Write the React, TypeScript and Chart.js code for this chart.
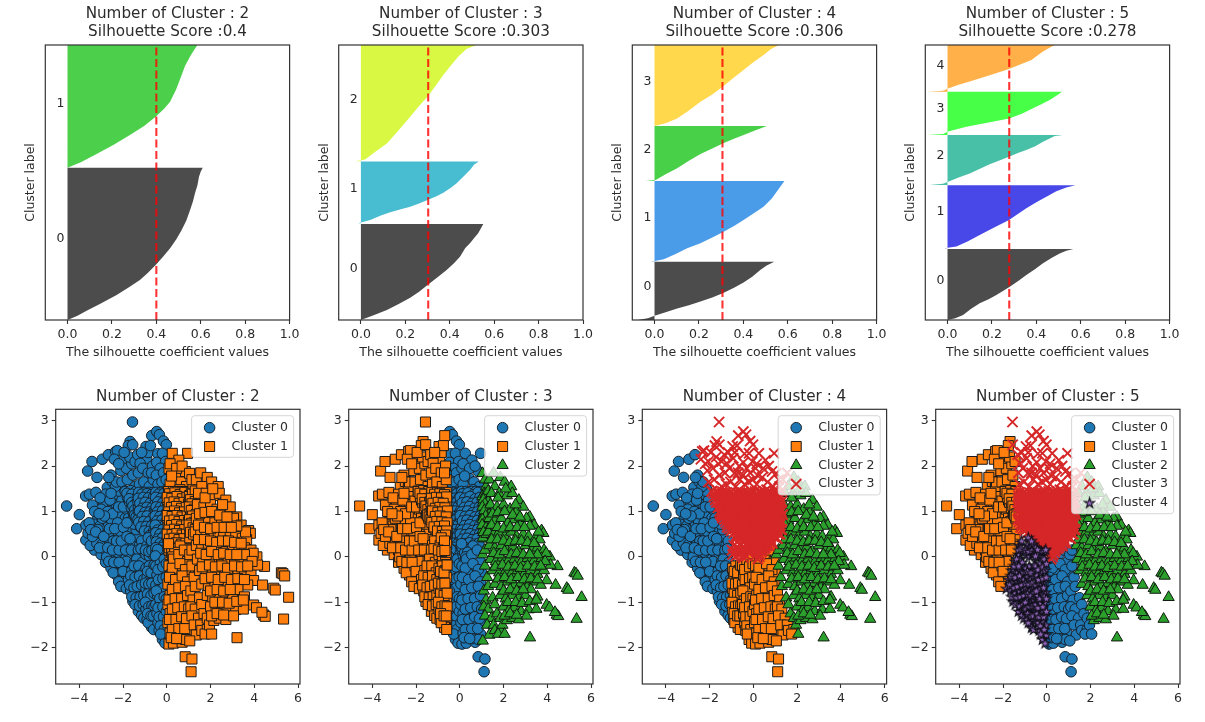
import React, { useEffect, useRef } from "react";
import Chart from "chart.js/auto";
import { drawPoint } from "chart.js/helpers";

type P = number[];

// ---------- silhouette plots: [coefficient, position along the stacked axis (0..1000)] ----------
const sil2c0: P[] = [[0,0],[.045,15],[.086,34],[.15,60],[.221,91],[.275,118],[.326,145],[.36,170],[.397,200],[.43,230],[.462,261],[.49,294],[.514,327],[.535,362],[.552,400],[.565,432],[.574,461],[.585,490],[.592,521],[.6,540],[.609,554]];
const sil2c1: P[] = [[0,554],[.06,574],[.131,604],[.21,638],[.281,673],[.345,705],[.397,739],[.435,768],[.462,794],[.49,840],[.514,891],[.53,925],[.552,958],[.565,975],[.585,1000]];

const sil3c0: P[] = [[0,0],[.06,18],[.117,36],[.17,58],[.222,81],[.262,103],[.3,127],[.345,155],[.386,182],[.42,207],[.446,230],[.47,262],[.491,279],[.51,298],[.528,315],[.54,333],[.551,349]];
const sil3c1: P[] = [[-.013,352],[.042,364],[.09,380],[.132,392],[.18,403],[.222,412],[.262,424],[.3,436],[.34,450],[.371,463],[.405,481],[.431,497],[.462,522],[.491,545],[.51,565],[.531,576]];
const sil3c2: P[] = [[-.025,577],[.019,584],[.065,612],[.117,642],[.17,690],[.222,739],[.262,778],[.3,812],[.34,855],[.371,891],[.405,925],[.439,958],[.475,985],[.521,1000]];

const sil4c0: P[] = [[-.075,0],[-.03,6],[0,15],[.05,28],[.102,42],[.155,54],[.207,67],[.26,82],[.307,97],[.358,117],[.401,136],[.44,157],[.476,182],[.505,198],[.539,212]];
const sil4c1: P[] = [[-.015,212],[.042,221],[.095,240],[.147,261],[.207,279],[.26,300],[.307,319],[.358,342],[.401,364],[.447,388],[.491,412],[.528,442],[.555,472],[.585,505]];
const sil4c2: P[] = [[-.04,505],[.005,509],[.05,530],[.102,552],[.155,579],[.207,604],[.26,624],[.307,642],[.355,658],[.401,673],[.455,690],[.506,705]];
const sil4c3: P[] = [[0,705],[.05,715],[.102,733],[.155,762],[.207,794],[.26,820],[.307,848],[.355,880],[.401,909],[.445,937],[.491,964],[.525,985],[.561,1000]];

const sil5c0: P[] = [[0,0],[.035,6],[.07,18],[.105,40],[.145,61],[.185,75],[.22,91],[.277,119],[.32,143],[.355,164],[.395,185],[.43,206],[.47,226],[.505,242],[.535,252],[.567,258]];
const sil5c1: P[] = [[-.015,261],[.04,267],[.09,285],[.145,309],[.21,336],[.277,364],[.32,387],[.355,406],[.4,428],[.445,448],[.49,468],[.535,482],[.576,490]];
const sil5c2: P[] = [[-.08,491],[-.02,495],[.003,503],[.05,518],[.1,533],[.19,566],[.277,594],[.32,608],[.355,618],[.395,632],[.43,648],[.46,660],[.483,669],[.52,673]];
const sil5c3: P[] = [[-.087,673],[-.02,676],[.003,685],[.085,703],[.18,717],[.277,733],[.335,750],[.385,770],[.425,785],[.46,800],[.49,815],[.516,830]];
const sil5c4: P[] = [[-.09,830],[-.02,834],[.003,842],[.05,855],[.1,867],[.19,890],[.277,913],[.33,930],[.378,945],[.405,962],[.43,976],[.455,988],[.483,1000]];

const farLeft: P[] = [[-4.58,1.12],[-4,.93],[-4.12,.62],[-3.7,.7],[-3.7,.37],[-3.6,.52],[-3.31,.15],[-3.62,1.89],[-3.42,2.1],[-3.19,1.75],[-3.71,1.34],[-3.54,1.38],[-3.24,1.42],[-3.4,1.14],[-2.95,2.15],[-2.67,2.25],[-2.55,1.8],[-2.72,1.53],[-2.49,1.66],[-2.9,.95],[-3.2,.81],[-2.37,1.33],[-2.17,1.3],
[-3.35,.72],[-3.1,.5],[-3.5,.25],[-3.2,.3],[-3,.05],[-3.05,.68],[-2.85,.6],[-2.95,.28],[-2.75,.42],[-2.8,.15],[-2.8,-.12],[-2.65,.72],[-2.6,.28],[-2.55,.02],[-2.55,-.25],[-2.5,.52],[-2.4,.2],[-2.35,.85],[-2.3,-.1],[-2.3,-.4],[-2.25,.55],[-2.2,.32],[-2.15,.05],[-2.12,-.3],[-2.1,1.05],[-2.05,.72],[-2,.45],[-2,.2],[-1.95,-.05],[-1.95,-.45],
[-2.75,1.15],[-2.6,1],[-2.45,1.1],[-2.3,1.15],[-2.6,.85],[-2.9,1.2],[-2.8,1.38],[-3,1.05],[-3.05,1.3],[-2.2,.9],[-1.9,.85],[-1.85,.6],[-1.8,.3],[-1.75,.1],[-1.7,-.15],[-1.85,1.05],[-1.75,.85],[-1.6,.55],[-1.55,.3],[-1.45,.45],[-1.4,.6],[-2.05,1.25],[-2.15,1.5],[-2.2,1.45],[-2.35,1.55],[-2.6,1.25],[-2.75,0],[-2.65,-.1],[-2.45,-.35],[-2.2,-.55],[-2.1,-.65],[-2.05,-.2],[-1.85,-.1],[-2.25,.1],[-2.5,.78],[-2.95,.85],[-3.15,.6],[-3.4,.45],[-3.55,.75],[-3.3,1],[-2.65,.55],[-2.45,.35],[-2.25,.75],[-2.1,.55],[-1.95,.35],[-1.65,.78],[-1.5,.72],
[-3.48,.6],[-3.25,.55],[-3.08,.2],[-2.88,.45],[-2.7,.2],[-2.62,.62],[-2.48,.15],[-2.38,.62],[-2.3,.35],[-2.18,.15],[-2.08,.35],[-1.98,.65],[-1.88,.15],[-1.82,.45],[-1.68,.4],[-1.62,.15],[-2.42,-.12],[-2.18,-.12],[-2,-.32],[-2.7,1],[-2.48,.95],[-2.2,1.1],[-1.98,1.1],[-1.82,.75],[-2.85,.9],[-3.1,.95],[-2.55,1.4],[-2.3,1.65],[-2.65,1.75]];

const upperLeftWedge: P[] = [[-2.34,2.32],[-2.26,2.34],[-1.68,2.54],[-1.76,2.45],[-2.06,2.1],[-2.4,2.15],[-2.1,1.9],[-1.85,1.95],[-1.6,2.05],[-2.05,1.65],[-1.8,1.7],[-1.55,1.8],[-1.9,1.45],[-1.65,1.4],[-1.45,1.55],[-1.75,1.25],[-1.5,1.2],[-1.4,1.35],[-1.55,1],[-1.42,.85],[-1.7,2.2],[-1.45,2.1],[-2.2,2.05],[-1.95,2.3],
[-1.9,1.44],[-1.65,1.46],[-1.42,1.44],[-1.8,1.32],[-1.55,1.32],[-1.7,1.2],[-1.45,1.18],[-1.62,1.08],[-1.4,1.08],[-1.52,.95],[-1.42,.97],[-1.44,.9],
[-1.82,1.4],[-1.6,1.38],[-1.45,1.28],[-1.72,1.28],[-1.6,1.2],[-1.38,1.2],[-1.55,1.12],[-1.46,1.04],[-1.38,.95],[-1.47,.92],[-1.4,.88]];

const upperCentreLeft: P[] = [[-1.57,2.97],[-1.56,2.47],[-1.33,2.25],[-.95,2.43],[-.69,2.67],[-.92,2.17],[-1.22,2.06],[-1.3,1.85],[-1.1,1.95],[-.85,1.85],[-.65,2],[-1.25,1.6],[-1.05,1.65],[-.8,1.55],[-.62,1.7],[-1.3,1.35],[-1.1,1.4],[-.9,1.3],[-.7,1.4],[-1.3,1.1],[-1.12,1.15],[-.85,1.05],[-.65,1.15],[-1.28,.85],[-1.05,.9],[-.8,.8],[-.62,.9],[-1.2,.65],[-.95,.62],[-.72,.6],[-.6,.6],[-.85,2.3],[-.75,2.45],[-1.15,2.3],[-.7,1.85],
[-1.28,1.42],[-1.02,1.42],[-.8,1.42],[-.62,1.42],[-1.18,1.3],[-.96,1.3],[-.72,1.3],[-1.32,1.22],[-1.06,1.22],[-.85,1.22],[-.6,1.22],[-1.2,1.12],[-.98,1.12],[-.74,1.12],[-1.3,1],[-1.08,1],[-.88,1],[-.64,1],[-1.18,.92],[-.94,.92],[-.7,.92],[-1.32,.82],[-1.1,.82],[-.86,.82],[-.6,.82],[-1.2,.72],[-.98,.72],[-.76,.72],[-1.1,.62],[-.88,.62],[-.66,.62],[-.9,.52],[-.7,.52],[-.58,.52],[-.72,.44],[-.6,.44],
[-1.15,1.38],[-.91,1.39],[-.7,1.37],[-1.3,1.29],[-1.07,1.31],[-.84,1.3],[-.6,1.32],[-1.23,1.18],[-.99,1.2],[-.76,1.18],[-1.12,1.07],[-.91,1.09],[-.68,1.08],[-1.25,1.01],[-1,.98],[-.78,.99],[-.57,1.01],[-1.12,.89],[-.9,.9],[-.62,.88],[-1.28,.76],[-1.05,.78],[-.82,.77],[-.58,.75],[-1.18,.66],[-.94,.67],[-.7,.68],[-1.02,.57],[-.8,.56],[-.6,.57],[-.78,.47],[-.65,.48]];

const lowerLeftBand: P[] = [[-1.25,.25],[-1.15,.35],[-1.3,.05],[-1.45,-.1],[-1.2,-.05],[-1.1,.1],[-1.6,-.3],[-1.4,-.35],[-1.2,-.3],[-1.05,-.2],[-1.75,-.5],[-1.55,-.55],[-1.35,-.55],[-1.15,-.5],[-1.85,-.7],[-1.65,-.75],[-1.45,-.8],[-1.25,-.75],[-1.05,-.7],[-1.55,-.98],[-1.35,-1],[-1.15,-.95],[-1.3,-1.2],[-1.1,-1.2],[-1.15,-1.29],[-1.05,-1.35],
[-1.3,.15],[-1.18,.18],[-1.38,-.05],[-1.12,-.12],[-1.5,-.2],[-1.28,-.2],[-1.08,-.35],[-1.65,-.42],[-1.45,-.45],[-1.25,-.42],[-1.05,-.5],[-1.7,-.62],[-1.5,-.68],[-1.35,-.65],[-1.15,-.62],[-1.6,-.88],[-1.4,-.9],[-1.22,-.88],[-1.05,-.85],[-1.45,-1.05],[-1.25,-1.08],[-1.08,-1.05]];

const centreApexLeft: P[] = [[-.95,.05],[-.8,.02],[-.65,.05],[-.9,.25],[-.75,.22],[-.6,.28],[-.85,.42],[-.62,.1],[-.7,.35],[-.98,.15],[-.82,.12],[-.68,.14]];

const lowerLeftStrip: P[] = [[-.95,-.25],[-.8,-.2],[-.65,-.3],[-.9,-.45],[-.75,-.5],[-.6,-.45],[-.95,-.7],[-.8,-.75],[-.65,-.7],[-.9,-.95],[-.75,-1],[-.6,-.95],[-.95,-1.15],[-.8,-1.25],[-.62,-1.2],[-.9,-1.38],[-.75,-1.45],[-.6,-1.4],[-.65,-1.55],[-.7,-1.55],[-.85,-1.45],[-.6,-1.6],
[-.88,-.32],[-.72,-.35],[-.58,-.18],[-.98,-.58],[-.82,-.6],[-.68,-.58],[-.88,-.82],[-.72,-.85],[-.58,-.8],[-.98,-1],[-.82,-1.1],[-.68,-1.08],[-.58,-1.1],[-.88,-1.25],[-.72,-1.3],[-.62,-1.3]];

const upperNearZeroLeft: P[] = [[-.46,2.76],[-.34,2.69],[-.15,2.55],[-.02,2.47],[-.41,2.27],[-.46,2.08],[-.2,2.28],[-.05,2.1],[-.3,1.95],[-.48,1.8],[-.15,1.85],[-.4,1.6],[-.22,1.65],[-.03,1.7],[-.5,1.4],[-.3,1.35],[-.1,1.45],[-.45,1.15],[-.2,1.12],[-.05,1.2],[-.35,.95],[-.12,.9],[-.5,.75],[-.28,.72],[-.05,.7],[-.45,.5],[-.2,.48],[-.08,.42],
[-.5,1.42],[-.28,1.42],[-.06,1.42],[-.42,1.33],[-.18,1.33],[-.52,1.24],[-.3,1.24],[-.08,1.24],[-.4,1.14],[-.16,1.14],[-.5,1.04],[-.26,1.04],[-.04,1.04],[-.38,.94],[-.14,.94],[-.52,.84],[-.28,.84],[-.06,.84],[-.4,.74],[-.18,.74],[-.5,.64],[-.28,.64],[-.05,.64],[-.38,.54],[-.14,.54],[-.5,.44],[-.26,.44],[-.03,.44],[-.38,.34],[-.14,.34],[-.28,.26],[-.05,.26],
[-.38,1.38],[-.14,1.39],[-.51,1.31],[-.26,1.29],[-.03,1.3],[-.41,1.21],[-.18,1.19],[-.49,1.1],[-.29,1.09],[-.07,1.11],[-.43,.99],[-.2,1.01],[-.02,.97],[-.53,.9],[-.31,.89],[-.09,.88],[-.45,.79],[-.22,.81],[-.03,.78],[-.34,.69],[-.1,.69],[-.53,.7],[-.42,.59],[-.19,.6],[-.02,.55],[-.5,.53],[-.31,.5],[-.1,.48],[-.43,.39],[-.21,.41],[-.04,.35],[-.48,.33],[-.3,.3],[-.12,.28],[-.2,.21]];

const centreApexMiddle: P[] = [[-.5,.1],[-.35,.15],[-.2,.08],[-.45,-.02],[-.3,.02],[-.5,.2],[-.4,.05],[-.25,.12],[-.12,.12],[-.05,.16],[-.42,.16],[-.52,.02]];

const lowerNearZeroLeft: P[] = [[-.5,-.2],[-.3,-.15],[-.12,-.05],[-.45,-.4],[-.25,-.35],[-.08,-.3],[-.5,-.62],[-.3,-.6],[-.12,-.55],[-.42,-.85],[-.22,-.8],[-.05,-.78],[-.5,-1.05],[-.3,-1.02],[-.1,-1],[-.45,-1.25],[-.25,-1.2],[-.08,-1.28],[-.4,-1.45],[-.22,-1.42],[-.05,-1.5],[-.35,-1.62],[-.15,-1.7],[-.02,-1.72],[-.2,-1.82],[-.08,-1.9],
[-.4,-.28],[-.18,-.22],[-.02,-.15],[-.38,-.5],[-.18,-.48],[-.03,-.45],[-.35,-.72],[-.15,-.68],[-.48,-.75],[-.32,-.92],[-.12,-.88],[-.02,-.92],[-.4,-1.12],[-.18,-1.1],[-.35,-1.32],[-.15,-1.32],[-.02,-1.2],[-.3,-1.52],[-.12,-1.6],[-.28,-1.7]];

const upperNearZeroRight: P[] = [[.25,2.28],[.95,2.28],[.55,2.13],[.85,1.88],[.1,1.95],[.4,1.75],[.65,1.65],[.9,1.55],[.15,1.6],[.3,1.4],[.55,1.3],[.8,1.35],[.1,1.25],[.95,1.1],[.25,1.12],[.5,1.05],[.75,.98],[.05,.9],[.35,.85],[.6,.78],[.9,.72],[.15,.6],[.4,.55],[.65,.5],[.9,.45],[.1,.38],[.3,.35],[.55,.33],[.78,.3],[.15,2.05],[.45,1.95],[.7,2],[.22,1.78],[.6,1.48],[.4,1.2],[.72,1.15],[.2,.95],[.5,.7],[.8,.58],
[.08,1.44],[.3,1.44],[.52,1.44],[.74,1.44],[.96,1.44],[.18,1.34],[.42,1.34],[.64,1.34],[.86,1.34],[.04,1.24],[.28,1.24],[.5,1.24],[.72,1.24],[.95,1.24],[.16,1.14],[.38,1.14],[.6,1.14],[.84,1.14],[.06,1.04],[.3,1.04],[.52,1.04],[.76,1.04],[.98,1.04],[.18,.94],[.42,.94],[.64,.94],[.88,.94],[.04,.84],[.28,.84],[.5,.84],[.74,.84],[.96,.84],[.16,.74],[.38,.74],[.62,.74],[.86,.74],[.06,.64],[.3,.64],[.52,.64],[.76,.64],[.98,.64],[.18,.54],[.42,.54],[.64,.54],[.88,.54],[.04,.44],[.28,.44],[.5,.44],[.74,.44],[.94,.44],[.16,.34],[.38,.34],[.62,.34],[.84,.34],[.06,.24],[.3,.24],[.52,.24],[.72,.24],[.16,.14],[.38,.14],[.2,-.05],[.15,.05],[.3,.05],[.1,.15],[.25,.15],[.4,.15],[.55,.2],[.7,.25],
[.13,1.39],[.37,1.41],[.61,1.37],[.83,1.42],[.02,1.31],[.23,1.29],[.47,1.33],[.71,1.28],[.92,1.31],[.11,1.19],[.33,1.21],[.56,1.18],[.79,1.2],[.99,1.16],[.21,1.09],[.44,1.11],[.67,1.07],[.89,1.09],[.09,.99],[.35,1.01],[.58,.97],[.81,.99],[.02,.91],[.24,.89],[.47,.91],[.7,.88],[.93,.9],[.12,.79],[.33,.81],[.56,.78],[.8,.8],[.99,.77],[.22,.69],[.45,.71],[.68,.68],[.91,.7],[.1,.59],[.35,.61],[.58,.58],[.82,.6],[.02,.5],[.24,.49],[.46,.51],[.7,.48],[.9,.5],[.12,.39],[.33,.41],[.56,.38],[.79,.4],[.21,.29],[.44,.31],[.67,.28],[.87,.3],[.11,.2],[.34,.19],[.48,.18],[.61,.24],[.22,.09],[.36,.1],[.27,0],[.08,.29]];

const lowerCentre: P[] = [[.1,-.2],[.3,-.05],[.55,.05],[.8,.15],[.2,-.4],[.45,-.3],[.7,-.2],[.95,-.1],[.05,-.6],[.3,-.6],[.55,-.55],[.8,-.45],[1,-.35],[.15,-.85],[.42,-.8],[.68,-.78],[.92,-.7],[.05,-1.05],[.28,-1.02],[.55,-1],[.8,-.98],[1.05,-.92],[.15,-1.25],[.4,-1.25],[.65,-1.2],[.9,-1.22],[.05,-1.45],[.3,-1.48],[.55,-1.42],[.78,-1.45],[1.02,-1.4],[.15,-1.68],[.42,-1.65],[.7,-1.62],[.95,-1.7],[.1,-1.92],[.3,-1.9],[.7,-1.88],[.55,-1.8],[.85,-1.82],[.84,-2.2],[1.15,-2.25],[1.11,-2.53],
[.25,-.25],[.6,-.15],[.85,-.28],[.12,-.45],[.4,-.5],[.7,-.42],[.95,-.55],[.25,-.72],[.55,-.68],[.85,-.65],[.1,-.95],[.38,-.92],[.68,-.92],[.95,-.85],[.25,-1.15],[.5,-1.12],[.8,-1.1],[1,-1.15],[.12,-1.38],[.42,-1.38],[.68,-1.32],[.9,-1.36],[.25,-1.6],[.55,-1.58],[.82,-1.58],[.2,-1.78],[.45,-1.8]];

const lowerRightOfCentre: P[] = [[1.1,-.75],[1.2,-.95],[1.1,-1.1],[1.3,-1.15],[1.15,-1.3],[1.45,-1.35],[1.25,-1.5],[1.55,-1.5],[1.35,-1.72],[1.6,-1.62],[1.85,-1.6],[1.05,-1.85],[1.75,-1.7]];

const borderStrip: P[] = [[1.05,.05],[1.15,-.2],[1.25,-.45],[1.3,-.65],[1.5,-.9],[1.6,-1.05],[1.7,-1.25],[1.85,-1.35],[1.95,-1.5],[2.05,-1.7],[1.15,.15]];

const upperRightOfCentre: P[] = [[1.04,1.84],[1.2,1.55],[1.05,1.35],[1.25,1.2],[1.1,.95],[1.2,.7],[1.05,.6],[1.15,1.7],[1.35,1.7],[1.55,1.85],[1.1,.4],[1.12,1.4],[1.24,1.3],[1.06,1.2],[1.18,1.1],[1.28,1],[1.08,.9],[1.22,.8],[1.1,.7],[1.24,.6],[1.14,.5],[1.05,.42],
[1.03,1.33],[1.17,1.38],[1.3,1.45],[1.08,1.26],[1.3,1.22],[1.15,1.17],[1.03,1.1],[1.25,1.05],[1.12,1.02],[1.34,.93],[1.18,.9],[1.04,.82],[1.28,.76],[1.14,.74],[1.02,.7],[1.2,.64],[1.3,.6],[1.08,.54],[1.22,.5]];

const right: P[] = [[1.85,1.75],[2.05,1.65],[2.35,1.55],[1.6,1.55],[1.45,1.4],[1.8,1.4],[2.15,1.35],[2.4,1.4],[2.7,1.25],[1.4,1.15],[1.7,1.1],[2,1.15],[2.3,1.05],[2.6,1],[2.9,1.1],[3.2,.88],[1.35,.85],[1.6,.8],[1.9,.85],[2.2,.75],[2.5,.82],[2.8,.72],[3.05,.85],[3.4,.7],[1.3,.55],[1.55,.5],[1.8,.55],[2.05,.45],[2.35,.55],[2.6,.45],[2.9,.5],[3.15,.45],[3.45,.41],[3.74,.58],[3.82,.52],[3.65,.38],[1.35,.25],[1.6,.2],[1.9,.25],[2.15,.15],[2.45,.22],[2.7,.12],[3,.25],[3.3,.15],[3.55,.2],[3.85,.15],[1.4,-.05],[1.65,-.1],[1.95,-.02],[2.2,-.1],[2.5,-.05],[2.8,-.12],[3.1,-.03],[3.4,-.08],[3.74,-.03],[4.12,0],[3.95,.08],[1.5,-.3],[1.8,-.35],[2.1,-.3],[2.35,-.38],[2.65,-.3],[2.95,-.38],[3.25,-.3],[3.55,-.38],[3.85,-.3],[4.47,-.21],[4.15,-.18],[1.6,-.6],[1.9,-.65],[2.2,-.55],[2.5,-.62],[2.8,-.58],[3.1,-.65],[3.4,-.55],[3.97,-.52],[4.38,-.62],[3.7,-.62],[1.85,-.85],[2.1,-.92],[2.4,-.85],[2.7,-.9],[3,-.85],[3.25,-.72],[3.55,-.88],[2,-1.1],[2.25,-1.18],[2.5,-1.12],[2.8,-1.2],[3.15,-1.16],[3.5,-1.15],[3.97,-1.06],[4.1,-1.12],[2.15,-1.4],[2.4,-1.35],[2.7,-1.38],[2.05,-1.3],[5.24,-.35],[5.31,-.37],[5.39,-.42],[5.57,-.89],[5.34,-1.37],[4.89,-.69],[4.96,-.73],[4.43,-1.28],[4.5,-1.31],[4.35,-1.22],[3.21,-1.78],[3.6,.55],[3.2,.68],[3.55,.05],[3.9,-.1],
[1.5,.95],[1.75,.98],[2.05,1],[2.42,.92],[2.75,.88],[1.45,.7],[1.72,.65],[2,.62],[2.3,.65],[2.62,.65],[2.95,.65],[1.45,.38],[1.72,.38],[2,.35],[2.28,.32],[2.55,.35],[2.82,.35],[3.1,.32],[3.4,.3],[1.55,.08],[1.8,.05],[2.05,.12],[2.35,.05],[2.6,.08],[2.9,.05],[3.2,.05],[1.62,-.22],[1.95,-.18],[2.22,-.22],[2.52,-.2],[2.78,-.25],[3.1,-.2],[3.42,-.22],[3.7,-.2],[1.75,-.48],[2.05,-.45],[2.35,-.5],[2.65,-.45],[2.95,-.5],[3.25,-.48],[3.55,-.5],[2,-.75],[2.3,-.72],[2.6,-.75],[2.9,-.72],[2.2,-1],[2.55,-1],[2.85,-1.02],[3.2,-.98],[3.05,-1.3],[2.3,-1.25],[2.6,-1.28],[3.5,-.95],[1.75,1.3],[2.1,1.5],[2.55,1.15]];

// ---------- tick values and labels ----------
const silTicks = [0, 0.2, 0.4, 0.6, 0.8, 1.0];
const scatterXTicks = [-4, -2, 0, 2, 4, 6];
const scatterYTicks = [-2, -1, 0, 1, 2, 3];
const clusterNames = ["Cluster 0", "Cluster 1", "Cluster 2", "Cluster 3", "Cluster 4"];

const FONT = "'DejaVu Sans'";
const TEXT = "#2b2b2b";

const makeStar = () => {
  const c = document.createElement("canvas");
  c.width = 13; c.height = 13;
  const g = c.getContext("2d")!;
  g.beginPath();
  for (let i = 0; i < 10; i++) {
    const r = i % 2 ? 2 : 5.3;
    const a = -Math.PI / 2 + (i * Math.PI) / 5;
    g.lineTo(6.5 + r * Math.cos(a), 6.8 + r * Math.sin(a));
  }
  g.closePath();
  g.fillStyle = "#9467bd"; g.fill();
  g.strokeStyle = "#10101a"; g.lineWidth = 1.1; g.stroke();
  return c;
};

const markerStyles = (): any[] => [
  { pointStyle: "circle", radius: 5.3, fill: "#1f77b4", edge: "#16222c", bw: 1 },
  { pointStyle: "rect", radius: 7.1, fill: "#ff7f0e", edge: "#1a1a1a", bw: 1 },
  { pointStyle: "triangle", radius: 6.5, fill: "#2ca02c", edge: "#101a10", bw: 1 },
  { pointStyle: "crossRot", radius: 7.2, fill: "#d62728", edge: "#d62728", bw: 1.9 },
  { pointStyle: makeStar(), radius: 6, fill: "#9467bd", edge: "#10101a", bw: 1 },
];

const framePlugin = {
  id: "frame",
  afterDatasetsDraw(chart: any) {
    const { ctx, chartArea: a } = chart;
    ctx.save();
    ctx.strokeStyle = "#333";
    ctx.lineWidth = 1.2;
    ctx.strokeRect(a.left, a.top, a.right - a.left, a.bottom - a.top);
    ctx.restore();
  },
};

const clusterTextPlugin = {
  id: "clusterText",
  afterDatasetsDraw(chart: any, _: any, opts: any) {
    if (!opts.positions) return;
    const { ctx, scales } = chart;
    ctx.save();
    ctx.font = `12.5px ${FONT}`;
    ctx.fillStyle = TEXT;
    ctx.textAlign = "left";
    ctx.textBaseline = "middle";
    opts.positions.forEach((y: number, i: number) => {
      ctx.fillText(String(i), scales.x.getPixelForValue(-0.05), scales.y.getPixelForValue(y));
    });
    ctx.restore();
  },
};

const innerLegendPlugin = {
  id: "innerLegend",
  afterDraw(chart: any, _: any, opts: any) {
    if (!opts.items) return;
    const { ctx, chartArea: a } = chart;
    const n = opts.items.length;
    const w = 102, h = 22.8 + 18.8 * (n - 1);
    const x0 = a.right - 6.4 - w, y0 = a.top + 6.4;
    ctx.save();
    ctx.beginPath();
    ctx.roundRect(x0, y0, w, h, 3);
    ctx.fillStyle = "rgba(255,255,255,0.8)";
    ctx.fill();
    ctx.strokeStyle = "rgba(204,204,204,0.8)";
    ctx.lineWidth = 1;
    ctx.stroke();
    opts.items.forEach((it: any, i: number) => {
      const cy = y0 + 12 + 18.8 * i;
      ctx.fillStyle = it.m.fill;
      ctx.strokeStyle = it.m.edge;
      ctx.lineWidth = it.m.bw;
      drawPoint(ctx, { pointStyle: it.m.pointStyle, radius: it.m.radius, rotation: 0, borderWidth: it.m.bw } as any, x0 + 18, cy);
      ctx.font = `12.5px ${FONT}`;
      ctx.fillStyle = TEXT;
      ctx.textAlign = "left";
      ctx.textBaseline = "middle";
      ctx.fillText(it.label, x0 + 40, cy);
    });
    ctx.restore();
  },
};

const toXY = (rows: P[]) => rows.map(([x, y]) => ({ x, y }));

const closeToAxis = (curve: P[]): P[] => [[0, curve[0][1]], ...curve, [0, curve[curve.length - 1][1]]];

const commonScale = (ticks: number[], fmt: (v: number) => string, size: number, horizontal: boolean, min: number, max: number, title?: any) => ({
  type: "linear",
  min, max,
  title,
  border: { display: false },
  grid: { drawOnChartArea: false, drawTicks: ticks.length > 0, tickLength: 4, tickColor: "#333", tickWidth: 1.1 },
  ticks: {
    display: ticks.length > 0,
    autoSkip: false, maxRotation: 0, minRotation: 0,
    padding: 3, color: TEXT,
    font: { family: FONT, size: 12.5 },
    callback: (v: any) => fmt(Number(v)),
  },
  afterBuildTicks: (s: any) => { s.ticks = ticks.map((value) => ({ value })); },
  afterFit: (s: any) => { if (horizontal) s.height = size; else s.width = size; },
});

function PanelChart({ left, top, width, height, config }: any) {
  const ref = useRef<HTMLCanvasElement>(null);
  useEffect(() => {
    const chart = new Chart(ref.current!, config());
    return () => chart.destroy();
  }, []);
  return <canvas ref={ref} width={width} height={height} style={{ position: "absolute", left, top, width, height }} />;
}

const silhouetteConfig = (n: number, score: string, scoreValue: number, curves: P[][], colors: string[], labelPos: number[], yWidth: number, w: number) => () => ({
  type: "scatter",
  data: {
    datasets: [
      ...curves.map((c, i) => ({
        label: `cluster ${i}`,
        data: toXY(closeToAxis(c)),
        showLine: true, fill: "shape",
        backgroundColor: colors[i], borderColor: colors[i], borderWidth: 0,
        pointRadius: 0, tension: 0, order: 2,
      })),
      {
        label: "score",
        data: [{ x: scoreValue, y: 0 }, { x: scoreValue, y: 1000 }],
        showLine: true, fill: false, borderColor: "rgba(255,0,0,0.8)", borderWidth: 2.1,
        borderDash: [8, 3.5], pointRadius: 0, order: 0,
      },
    ],
  },
  options: {
    animation: false, responsive: false, devicePixelRatio: 1, events: [],
    layout: { padding: { right: w } },
    plugins: {
      legend: { display: false }, tooltip: { enabled: false },
      title: {
        display: true, fullSize: false,
        text: [`Number of Cluster : ${n}`, `Silhouette Score :${score}`],
        color: TEXT, font: { family: FONT, size: 15.2, weight: "normal", lineHeight: 1.23 },
        padding: { top: 4.4, bottom: 3.2 },
      },
      clusterText: { positions: labelPos },
      innerLegend: {},
    },
    scales: {
      x: commonScale(silTicks, (v) => v.toFixed(1), 42, true, -0.1, 1, {
        display: true, text: "The silhouette coefficient values", color: TEXT,
        font: { family: FONT, size: 12.5 }, padding: { top: 1.8, bottom: 1.8 },
      }),
      y: commonScale([], String, yWidth, false, 0, 1000, {
        display: true, text: "Cluster label", color: TEXT,
        font: { family: FONT, size: 12.5 }, padding: { top: yWidth - 14.3 - 7.5, bottom: 0 },
      }),
    },
  },
  plugins: [framePlugin, clusterTextPlugin, innerLegendPlugin],
});

const minus = (v: number) => String(v).replace("-", "\u2212");

const scatterConfig = (n: number, groups: P[][][], order: number[], yWidth: number, w: number) => () => {
  const styles = markerStyles();
  const sets = groups.map((g, i) => {
    const m = styles[i];
    return {
      label: clusterNames[i],
      data: toXY(g.flat()),
      pointStyle: m.pointStyle,
      pointRadius: m.radius,
      pointBackgroundColor: m.fill,
      pointBorderColor: m.edge,
      pointBorderWidth: m.bw,
      showLine: false,
      order: order[i],
    };
  });
  return {
    type: "scatter",
    data: { datasets: sets },
    options: {
      animation: false, responsive: false, devicePixelRatio: 1, events: [],
      layout: { padding: { right: w } },
      plugins: {
        legend: { display: false }, tooltip: { enabled: false },
        title: {
          display: true, fullSize: false, text: `Number of Cluster : ${n}`,
          color: TEXT, font: { family: FONT, size: 15.2, weight: "normal", lineHeight: 1.23 },
          padding: { top: 7.6, bottom: 3 },
        },
        clusterText: {},
        innerLegend: { items: groups.map((_, i) => ({ label: clusterNames[i], m: styles[i] })) },
      },
      scales: {
        x: commonScale(scatterXTicks, minus, 30, true, -5.08, 6.09),
        y: commonScale(scatterYTicks, minus, yWidth, false, -2.8, 3.25),
      },
    },
    plugins: [framePlugin, clusterTextPlugin, innerLegendPlugin],
  };
};

const PLOT_W = 244.3;
const topLefts = [45.3, 338.7, 632.3, 925.3];
const botLefts = [55.7, 348.7, 642.3, 935.7];

const topPanels = [
  { n: 2, score: "0.4", value: 0.4, curves: [sil2c0, sil2c1], colors: ["#4c4c4c", "#4cd04c"], labels: [295, 788] },
  { n: 3, score: "0.303", value: 0.303, curves: [sil3c0, sil3c1, sil3c2], colors: ["#4c4c4c", "#48bcd0", "#d8f844"], labels: [188, 476, 800] },
  { n: 4, score: "0.306", value: 0.306, curves: [sil4c0, sil4c1, sil4c2, sil4c3], colors: ["#4c4c4c", "#4a9ce8", "#48d048", "#ffd84c"], labels: [121, 372, 618, 867] },
  { n: 5, score: "0.278", value: 0.278, curves: [sil5c0, sil5c1, sil5c2, sil5c3, sil5c4], colors: ["#4c4c4c", "#4848e8", "#48c0a8", "#48ff48", "#ffb048"], labels: [142, 392, 598, 767, 925] },
];

const bottomPanels = [
  { n: 2, order: [2, 1], groups: [
    [farLeft, upperLeftWedge, upperCentreLeft, lowerLeftBand, centreApexLeft, lowerLeftStrip, upperNearZeroLeft, centreApexMiddle, lowerNearZeroLeft],
    [upperNearZeroRight, lowerCentre, upperRightOfCentre, lowerRightOfCentre, borderStrip, right],
  ] },
  { n: 3, order: [3, 2, 1], groups: [
    [upperNearZeroLeft, centreApexMiddle, lowerNearZeroLeft, upperNearZeroRight, lowerCentre],
    [farLeft, upperLeftWedge, upperCentreLeft, lowerLeftBand, centreApexLeft, lowerLeftStrip],
    [upperRightOfCentre, lowerRightOfCentre, borderStrip, right],
  ] },
  { n: 4, order: [4, 3, 2, 1], groups: [
    [farLeft, lowerLeftBand],
    [lowerLeftStrip, lowerNearZeroLeft, lowerCentre, lowerRightOfCentre],
    [borderStrip, right],
    [upperLeftWedge, upperCentreLeft, centreApexLeft, upperNearZeroLeft, centreApexMiddle, upperNearZeroRight, upperRightOfCentre],
  ] },
  { n: 5, order: [5, 4, 3, 2, 1], groups: [
    [lowerCentre, lowerRightOfCentre, borderStrip],
    [farLeft, upperLeftWedge],
    [right],
    [upperCentreLeft, upperNearZeroLeft, upperNearZeroRight, upperRightOfCentre],
    [lowerLeftBand, centreApexLeft, lowerLeftStrip, centreApexMiddle, lowerNearZeroLeft],
  ] },
];

export default function App() {
  return (
    <div style={{ position: "absolute", left: 0, top: 0, width: 1205, height: 722, background: "#fff", overflow: "hidden", filter: "blur(0.65px)" }}>
      {topPanels.map((p, i) => {
        const canvasLeft = Math.round(topLefts[i] - 45);
        const yw = topLefts[i] - canvasLeft;
        const cw = 315;
        return (
          <PanelChart key={`t${i}`} left={canvasLeft} top={0} width={cw} height={362}
            config={silhouetteConfig(p.n, p.score, p.value, p.curves, p.colors, p.labels, yw, cw - yw - PLOT_W)} />
        );
      })}
      {bottomPanels.map((p, i) => {
        const canvasLeft = Math.round(botLefts[i] - 40);
        const yw = botLefts[i] - canvasLeft;
        const cw = 305;
        return (
          <PanelChart key={`b${i}`} left={canvasLeft} top={380} width={cw} height={334}
            config={scatterConfig(p.n, p.groups, p.order, yw, cw - yw - PLOT_W)} />
        );
      })}
    </div>
  );
}
